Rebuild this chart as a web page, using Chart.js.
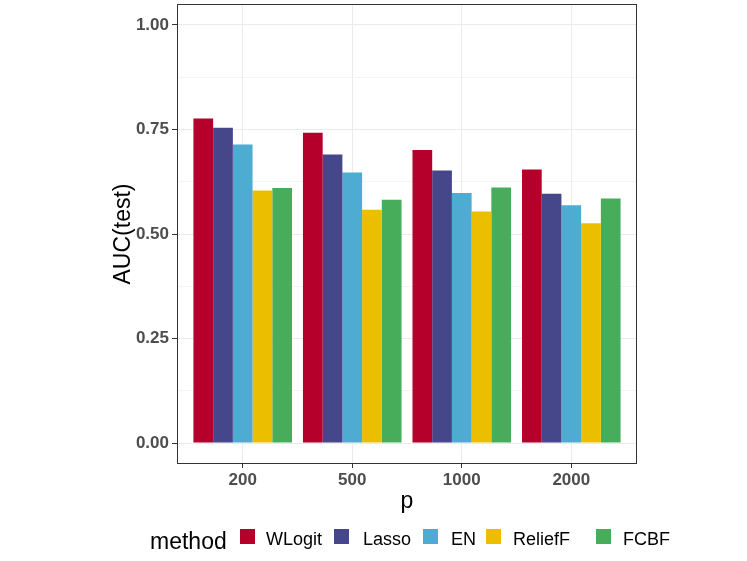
<!DOCTYPE html>
<html>
<head>
<meta charset="utf-8">
<script src="https://cdn.jsdelivr.net/npm/chart.js@4.4.0/dist/chart.umd.min.js"></script>
<style>
  html, body { margin: 0; padding: 0; background: #fff; }
  #wrap { position: relative; width: 747px; height: 561px; }
  .lg { position: absolute; font-family: "Liberation Sans", Arial, sans-serif; color: #000; white-space: nowrap; }
  .key { position: absolute; width: 15px; height: 15px; }
</style>
</head>
<body>
<div id="wrap">
  <canvas id="aucChart" width="747" height="561"></canvas>
  <div id="legend"></div>
</div>
<script>
// Data
const categories = ["200", "500", "1000", "2000"];
const methods = ["WLogit", "Lasso", "EN", "ReliefF", "FCBF"];
const wlogit = [0.776, 0.742, 0.701, 0.654];
const lasso = [0.754, 0.690, 0.652, 0.596];
const en = [0.714, 0.647, 0.598, 0.569];
const relieff = [0.604, 0.558, 0.554, 0.526];
const fcbf = [0.610, 0.582, 0.611, 0.585];
const yMajor = [0, 0.25, 0.5, 0.75, 1];
const yMinor = [0.125, 0.375, 0.625, 0.875];

const series = [wlogit, lasso, en, relieff, fcbf];
const colors = ["#b5002b", "#46468a", "#4eabd2", "#ebbf00", "#47ad5b"];

// Legend placement (pixels)
const keyLeft = [240, 334, 423, 486, 596];
const textLeft = [266, 363, 451, 513, 623];

const tickFont = { family: "'Liberation Sans', Arial, sans-serif", size: 17, weight: "bold" };
const titleFont = { family: "'Liberation Sans', Arial, sans-serif", size: 23 };

// ggplot-style panel border
const panelBorder = {
  id: "panelBorder",
  afterDraw(chart) {
    const { ctx, chartArea: a } = chart;
    ctx.save();
    ctx.strokeStyle = "#333333";
    ctx.lineWidth = 1;
    ctx.strokeRect(a.left + 0.5, a.top + 0.5, a.right - a.left - 1, a.bottom - a.top - 1);
    ctx.restore();
  },
};

const datasets = methods.map((m, k) => ({
  label: m,
  data: categories.map((c, i) => ({ x: i, y: series[k][i] })),
  backgroundColor: colors[k],
  borderWidth: 0,
  categoryPercentage: 0.9,
  barPercentage: 1.0,
}));

new Chart(document.getElementById("aucChart"), {
  type: "bar",
  data: { datasets: datasets },
  plugins: [panelBorder],
  options: {
    responsive: false,
    animation: false,
    layout: { padding: { left: 0, top: 4, right: 110, bottom: 36 } },
    plugins: {
      legend: { display: false },
      tooltip: { enabled: false },
    },
    scales: {
      x: {
        type: "linear",
        offset: false,
        min: -0.6,
        max: 3.6,
        afterBuildTicks: (s) => { s.ticks = categories.map((c, i) => ({ value: i })); },
        afterFit: (s) => { s.height = 61; s.paddingLeft = 0; s.paddingRight = 0; },
        ticks: {
          callback: (v) => categories[v],
          font: tickFont,
          color: "#4d4d4d",
          padding: 2,
          maxRotation: 0,
        },
        grid: { color: "#ebebeb", tickColor: "#333333", tickLength: 4, offset: false },
        border: { display: false },
        title: { display: true, text: "p", font: titleFont, color: "#000", padding: { top: 0, bottom: 10 } },
      },
      y: {
        min: -0.05,
        max: 1.05,
        afterBuildTicks: (s) => {
          s.ticks = yMajor.concat(yMinor).sort((a, b) => a - b).map((v) => ({ value: v }));
        },
        afterFit: (s) => { s.width = 177; s.paddingTop = 0; s.paddingBottom = 0; },
        ticks: {
          callback: (v) => (yMajor.includes(v) ? v.toFixed(2) : ""),
          font: tickFont,
          color: "#4d4d4d",
          padding: 3,
        },
        grid: {
          color: (c) => (yMajor.includes(c.tick.value) ? "#ebebeb" : "#f4f4f4"),
          tickColor: (c) => (yMajor.includes(c.tick.value) ? "#333333" : "rgba(0,0,0,0)"),
          tickLength: 5,
        },
        border: { display: false },
        title: { display: true, text: "AUC(test)", font: titleFont, color: "#000", padding: { top: 110, bottom: 0 } },
      },
    },
  },
});

// Legend below the panel
const legend = document.getElementById("legend");
let html = '<div class="lg" style="left:150px;top:528px;font-size:23px;line-height:26px;">method</div>';
methods.forEach((m, k) => {
  html += '<div class="key" style="left:' + keyLeft[k] + 'px;top:529px;background:' + colors[k] + ';"></div>';
  html += '<div class="lg" style="left:' + textLeft[k] + 'px;top:529px;font-size:18px;line-height:20px;">' + m + '</div>';
});
legend.innerHTML = html;
</script>
</body>
</html>
